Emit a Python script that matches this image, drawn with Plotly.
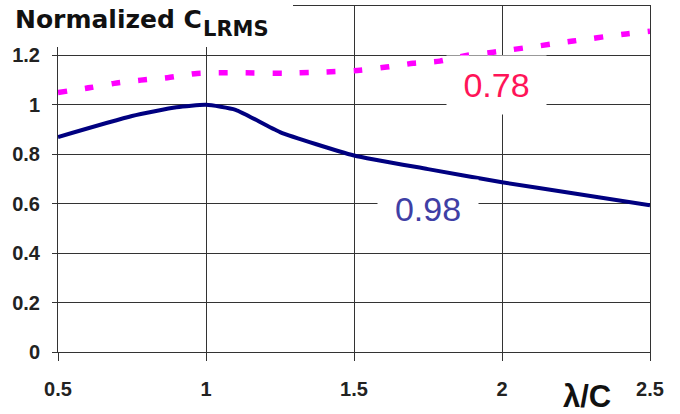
import plotly.graph_objects as go

# Data
x_magenta = [0.5, 0.61, 0.69, 0.78, 0.87, 0.97, 1.10, 1.26, 1.38, 1.52, 1.61, 1.70, 1.79, 1.88, 1.97, 2.24, 2.41, 2.5]
y_magenta = [1.05, 1.07, 1.087, 1.10, 1.11, 1.127, 1.13, 1.128, 1.132, 1.14, 1.153, 1.168, 1.177, 1.20, 1.213, 1.258, 1.286, 1.298]

x_navy = [0.5, 0.75, 0.9, 1.0, 1.1, 1.25, 1.5, 1.75, 2.0, 2.25, 2.5]
y_navy = [0.87, 0.955, 0.99, 1.0, 0.98, 0.89, 0.795, 0.74, 0.687, 0.64, 0.594]

y_ticks = [0, 0.2, 0.4, 0.6, 0.8, 1.0, 1.2]
y_tick_text = ["0", "0.2", "0.4", "0.6", "0.8", "1", "1.2"]
x_ticks = [0.5, 1.0, 1.5, 2.0, 2.5]
x_tick_text = ["0.5", "1", "1.5", "2", "2.5"]

FONT = "Arial, 'Liberation Sans', sans-serif"
WIDE = "'DejaVu Sans', Arial, sans-serif"

fig = go.Figure()
fig.add_trace(go.Scatter(x=x_magenta, y=y_magenta, mode="lines",
                         line=dict(color="#FF00FF", width=5.5, dash="9px,18px", shape="spline", smoothing=0.6),
                         hoverinfo="skip", showlegend=False))
fig.add_trace(go.Scatter(x=x_navy, y=y_navy, mode="lines",
                         line=dict(color="#000080", width=4, shape="spline", smoothing=0.5),
                         hoverinfo="skip", showlegend=False))

fig.update_layout(
    width=680, height=414,
    margin=dict(l=58, r=30, t=6, b=62),
    paper_bgcolor="white", plot_bgcolor="white",
    font=dict(family=FONT, color="#222"),
    xaxis=dict(range=[0.5, 2.5], tickvals=x_ticks, ticktext=x_tick_text,
               showgrid=True, gridcolor="#333", gridwidth=1,
               showline=True, linecolor="#333", linewidth=1, mirror=True,
               ticks="outside", ticklen=8, tickcolor="#333", tickwidth=1,
               tickfont=dict(size=20, weight="bold", color="#222", family=FONT),
               ticklabelstandoff=11, zeroline=False),
    yaxis=dict(range=[0, 1.4], tickvals=y_ticks, ticktext=y_tick_text,
               showgrid=True, gridcolor="#333", gridwidth=1,
               showline=True, linecolor="#333", linewidth=1, mirror=True,
               ticks="outside", ticklen=5, tickcolor="#333", tickwidth=1,
               tickfont=dict(size=20, weight="bold", color="#222", family=FONT),
               ticklabelstandoff=8, zeroline=False),
)

# white cover behind the title
fig.add_shape(type="rect", xref="paper", yref="paper",
              x0=-0.2, x1=(293 - 58) / 592, y0=(352 - 47) / 346, y1=1.1,
              fillcolor="white", line=dict(width=0), layer="above")

fig.add_annotation(text="<b>Normalized C</b>", xref="paper", yref="paper",
                   x=(13 - 58) / 592, y=(352 - 19) / 346, xanchor="left", yanchor="middle",
                   showarrow=False, font=dict(size=25, color="#111", family=WIDE))
fig.add_annotation(text="<b>LRMS</b>", xref="paper", yref="paper",
                   x=(201 - 58) / 592, y=(352 - 29) / 346, xanchor="left", yanchor="middle",
                   showarrow=False, font=dict(size=21, color="#111", family=WIDE))

fig.add_annotation(text="0.78", x=1.981, y=1.08, xref="x", yref="y", showarrow=False,
                   font=dict(size=34, color="#FF1458", family=FONT),
                   bgcolor="white", width=97, height=56, borderpad=1)
fig.add_annotation(text="0.98", x=1.75, y=0.577, xref="x", yref="y", showarrow=False,
                   font=dict(size=34, color="#3F3FA5", family=FONT),
                   bgcolor="white", width=98, height=56, borderpad=1)

fig.add_annotation(text="<b>λ/C</b>", xref="paper", yref="paper",
                   x=(587 - 58) / 592, y=(352 - 396) / 346, xanchor="center", yanchor="middle",
                   showarrow=False, font=dict(size=31, color="#111", family=FONT))

fig.write_html("out.html")
